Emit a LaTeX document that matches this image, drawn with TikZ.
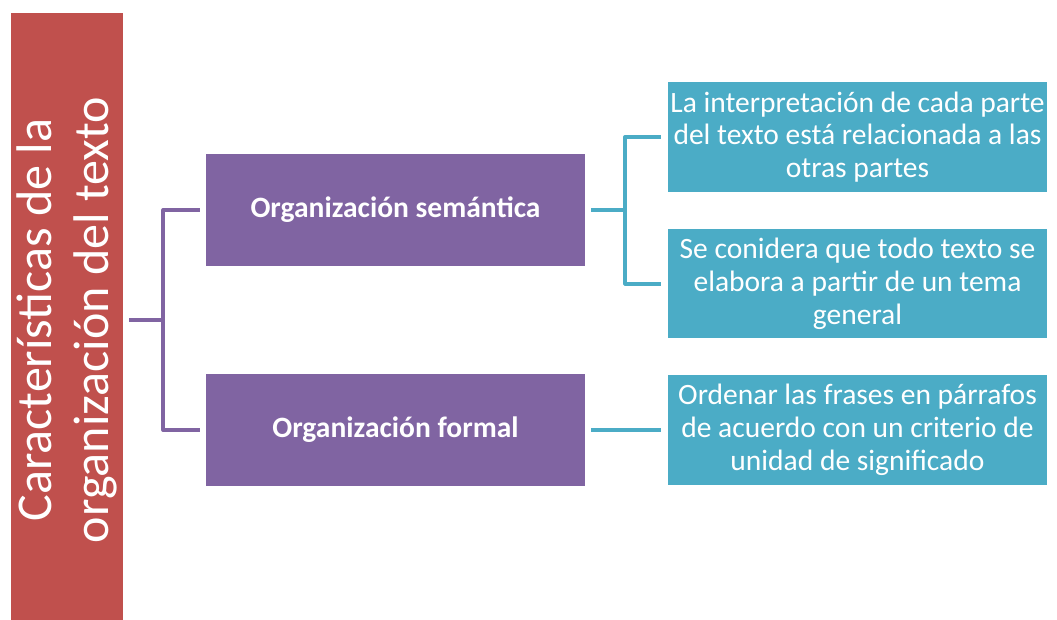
\documentclass[tikz,border=0pt]{standalone}
\usepackage{fontspec}
\setmainfont{Carlito}
\definecolor{titlered}{HTML}{C0504D}
\definecolor{semviolet}{HTML}{8064A2}
\definecolor{leafcyan}{HTML}{4BACC6}

\begin{document}
\begin{tikzpicture}[x=0.02cm,y=-0.02cm,
		title node/.style={rotate=90,fill=titlered,text=white,align=center,minimum width=12.28cm,minimum height=2.24cm,inner sep=0pt,font=\fontsize{28.5}{32}\selectfont},
		mid node/.style={fill=semviolet,text=white,minimum width=7.58cm,minimum height=2.24cm,inner sep=0pt,font=\fontsize{16.8}{19}\selectfont\bfseries},
		leaf node/.style={fill=leafcyan,text=white,align=center,minimum width=7.6cm,minimum height=2.2cm,inner sep=0pt,font=\fontsize{16.8}{18.7}\selectfont},
		plink/.style={draw=semviolet,line width=0.08cm,line join=round,shorten <=0.12cm,shorten >=0.12cm},
		clink/.style={draw=leafcyan,line width=0.08cm,line join=round,shorten <=0.12cm,shorten >=0.12cm}]
		\useasboundingbox (0,0) rectangle (1057,619);
		% raiz
		\node[title node] (root) at (67,320) {Características de la\\organización del texto};
		% segundo nivel
		\node[mid node] (sem) at (395.5,210) {Organización semántica};
		\node[mid node] (form) at (395.5,430) {Organización formal};
		% hojas
		\node[leaf node] (l1) at (857.5,137) {La interpretación de cada parte\\del texto está relacionada a las\\otras partes};
		\node[leaf node] (l2) at (857.5,283.5) {Se conidera que todo texto se\\elabora a partir de un tema\\general};
		\node[leaf node] (l3) at (857.5,430) {Ordenar las frases en párrafos\\de acuerdo con un criterio de\\unidad de significado};
		
		\draw[plink] (root.south) -- ++(40,0) |- (sem.west);
		\draw[plink] (root.south) -- ++(40,0) |- (form.west);
		
		\draw[clink] (sem.east) -- ++(40,0) |- (l1.west);
		\draw[clink] (sem.east) -- ++(40,0) |- (l2.west);
		\draw[clink] (form.east) -- (l3.west);
		
\end{tikzpicture}
\end{document}
